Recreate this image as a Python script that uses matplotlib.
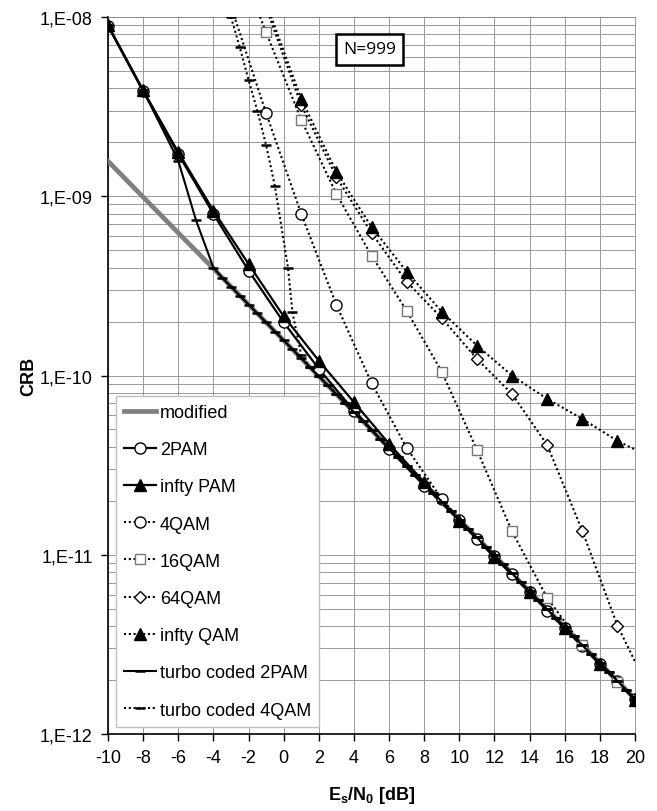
import numpy as np
import matplotlib
matplotlib.use("Agg")
import matplotlib.pyplot as plt
from matplotlib.ticker import FixedLocator, FuncFormatter

plt.rcParams['font.family'] = ['Liberation Sans', 'DejaVu Sans']
plt.rcParams['mathtext.fontset'] = 'custom'
plt.rcParams['mathtext.rm'] = 'Liberation Sans'
plt.rcParams['mathtext.bf'] = 'Liberation Sans:bold'

# ---- data ----
mod_x = [-10, -8, -6, -4, -2, 0, 2, 4, 6, 8, 10, 12, 14, 16, 18, 20]
mod_y = [1.57e-9, 9.9e-10, 6.25e-10, 3.95e-10, 2.49e-10, 1.57e-10, 9.9e-11, 6.25e-11,
         3.95e-11, 2.49e-11, 1.57e-11, 9.9e-12, 6.25e-12, 3.95e-12, 2.49e-12, 1.57e-12]

pam_x = [-10, -8, -6, -4, -2, 0, 2, 4, 6, 8, 10, 12, 14, 16, 18, 20]
pam2_y = [8.9e-9, 3.85e-9, 1.72e-9, 7.97e-10, 3.85e-10, 1.98e-10, 1.09e-10, 6.37e-11,
          3.90e-11, 2.43e-11, 1.56e-11, 9.8e-12, 6.2e-12, 3.9e-12, 2.47e-12, 1.56e-12]
infpam_y = [9.0e-9, 3.9e-9, 1.76e-9, 8.32e-10, 4.19e-10, 2.14e-10, 1.21e-10, 7.10e-11,
            4.16e-11, 2.54e-11, 1.55e-11, 9.7e-12, 6.2e-12, 3.9e-12, 2.45e-12, 1.55e-12]

qam4_x = [-3, -1, 1, 3, 5, 7, 9, 11, 13, 15, 17, 19]
qam4_y = [1.15e-8, 2.91e-9, 7.97e-10, 2.48e-10, 9.09e-11, 3.95e-11, 2.05e-11, 1.22e-11,
          7.83e-12, 4.85e-12, 3.1e-12, 1.97e-12]

qam16_x = [-3, -1, 1, 3, 5, 7, 9, 11, 13, 15, 17, 19]
qam16_y = [2.6e-8, 8.2e-9, 2.67e-9, 1.03e-9, 4.67e-10, 2.30e-10, 1.05e-10, 3.86e-11,
           1.35e-11, 5.75e-12, 3.12e-12, 1.96e-12]

qam64_x = [-1, 1, 3, 5, 7, 9, 11, 13, 15, 17, 19, 21]
qam64_y = [1.13e-8, 3.23e-9, 1.28e-9, 6.24e-10, 3.34e-10, 2.09e-10, 1.24e-10, 7.89e-11,
           4.10e-11, 1.36e-11, 4.03e-12, 1.6e-12]

infqam_x = [-1, 1, 3, 5, 7, 9, 11, 13, 15, 17, 19, 21]
infqam_y = [1.2e-8, 3.49e-9, 1.37e-9, 6.74e-10, 3.80e-10, 2.27e-10, 1.47e-10, 9.99e-11,
            7.41e-11, 5.73e-11, 4.32e-11, 3.46e-11]

tc2pam_x = [-10, -8, -6, -5, -4, -3.5, -3, -2.5, -2, -1.5, -1, -0.5, 0, 0.5, 1, 1.5, 2,
            2.5, 3, 3.5, 4, 4.5, 5, 5.5, 6, 6.5, 7, 7.5, 8, 8.5, 9, 9.5, 10, 10.5, 11,
            11.5, 12, 12.5, 13, 13.5, 14, 14.5, 15, 15.5, 16, 16.5, 17, 17.5, 18, 18.5,
            19, 19.5, 20]
tc2pam_y = [9.0e-9, 3.9e-9, 1.58e-9, 7.4e-10, 4.0e-10, 3.51e-10, 3.13e-10, 2.79e-10,
            2.49e-10, 2.22e-10, 1.98e-10, 1.76e-10, 1.57e-10, 1.40e-10, 1.25e-10, 1.11e-10,
            9.91e-11, 8.83e-11, 7.87e-11, 7.01e-11, 6.25e-11, 5.57e-11, 4.96e-11, 4.42e-11,
            3.94e-11, 3.51e-11, 3.13e-11, 2.79e-11, 2.49e-11, 2.22e-11, 1.98e-11, 1.76e-11,
            1.57e-11, 1.40e-11, 1.25e-11, 1.11e-11, 9.91e-12, 8.83e-12, 7.87e-12, 7.01e-12,
            6.25e-12, 5.57e-12, 4.96e-12, 4.42e-12, 3.94e-12, 3.51e-12, 3.13e-12, 2.79e-12,
            2.49e-12, 2.22e-12, 1.98e-12, 1.76e-12, 1.57e-12]

tc4qam_x = [-3, -2.5, -2, -1.5, -1, -0.5, 0.25, 0.5, 1] + tc2pam_x[15:]
tc4qam_y = [1.0e-8, 6.78e-9, 4.46e-9, 3.0e-9, 1.93e-9, 1.14e-9, 3.97e-10, 2.25e-10,
            1.30e-10] + tc2pam_y[15:]

x_ticks = [-10, -8, -6, -4, -2, 0, 2, 4, 6, 8, 10, 12, 14, 16, 18, 20]

# ---- figure ----
fig = plt.figure(figsize=(6.57, 8.12), dpi=100)
ax = fig.add_axes([0.1644, 0.0948, 0.8021, 0.8830])
ax.set_yscale('log')

dot = (0, (1, 1.3))
ax.plot(mod_x, mod_y, color='#808080', lw=3.4, label='modified', zorder=3)
ax.plot(pam_x, pam2_y, color='black', lw=1.6, marker='o', ms=8, mfc='white',
        mec='black', mew=1.0, label='2PAM', zorder=4)
ax.plot(pam_x, infpam_y, color='black', lw=1.6, marker='^', ms=8, mfc='black',
        mec='black', label='infty PAM', zorder=4)
ax.plot(qam4_x, qam4_y, color='black', lw=1.5, ls=dot, marker='o', ms=8, mfc='white',
        mec='black', mew=1.0, label='4QAM', zorder=5)
ax.plot(qam16_x, qam16_y, color='black', lw=1.5, ls=dot, marker='s', ms=7.5, mfc='white',
        mec='#777777', mew=1.0, label='16QAM', zorder=5)
ax.plot(qam64_x, qam64_y, color='black', lw=1.5, ls=dot, marker='D', ms=6.5, mfc='white',
        mec='black', mew=1.0, label='64QAM', zorder=5)
ax.plot(infqam_x, infqam_y, color='black', lw=1.5, ls=dot, marker='^', ms=8, mfc='black',
        mec='black', label='infty QAM', zorder=5)
ax.plot(tc2pam_x, tc2pam_y, color='black', lw=1.5, marker='_', ms=7, mew=1.8,
        label='turbo coded 2PAM', zorder=6)
ax.plot(tc4qam_x, tc4qam_y, color='black', lw=1.5, ls=dot, marker='_', ms=7, mew=1.8,
        label='turbo coded 4QAM', zorder=6)

ax.set_xlim(-10, 20)
ax.set_ylim(1e-12, 1e-8)
ax.set_xticks(x_ticks)
ax.set_xticklabels([str(t) for t in x_ticks])

minor = [m * 10.0 ** e for e in range(-12, -8) for m in range(2, 10)]
ax.yaxis.set_major_locator(FixedLocator([1e-12, 1e-11, 1e-10, 1e-9, 1e-8]))
ax.yaxis.set_minor_locator(FixedLocator(minor))
ax.yaxis.set_major_formatter(FuncFormatter(lambda v, p: "1,E-%02d" % int(round(-np.log10(v)))))
ax.yaxis.set_minor_formatter(FuncFormatter(lambda v, p: ""))

ax.set_axisbelow(True)
ax.grid(which='both', axis='y', color='#8a8a8a', lw=0.6)
ax.grid(which='major', axis='x', color='#8a8a8a', lw=0.6)

ax.tick_params(axis='both', which='major', direction='out', length=5, width=1,
               labelsize=13, colors='black')
ax.tick_params(axis='y', which='major', pad=6)
ax.tick_params(axis='x', which='major', pad=6)
ax.tick_params(axis='y', which='minor', length=0)

for s in ['left', 'bottom']:
    ax.spines[s].set_color('black')
    ax.spines[s].set_linewidth(1.2)
for s in ['top', 'right']:
    ax.spines[s].set_color('#8a8a8a')
    ax.spines[s].set_linewidth(0.6)

ax.set_ylabel('CRB', fontsize=13, fontweight='bold', labelpad=2)
ax.set_xlabel(r'E$_\mathbf{s}$/N$_\mathbf{0}$ [dB]', fontsize=13, fontweight='bold',
              labelpad=13)

ax.text(0.496, 0.955, 'N=999', transform=ax.transAxes, ha='center', va='center',
        fontsize=12.5, family='Open Sans',
        bbox=dict(boxstyle='square,pad=0.42', fc='white', ec='black', lw=1.8))

leg = ax.legend(loc='lower left', bbox_to_anchor=(0.008, 0.005), fontsize=13,
                frameon=True, fancybox=False, framealpha=1, edgecolor='#c0c0c0',
                handlelength=1.8, handletextpad=0.2, labelspacing=1.12,
                borderpad=0.45, borderaxespad=0.2, numpoints=1)
leg.get_frame().set_linewidth(1.0)
leg.set_zorder(10)

fig.savefig('out.png', dpi=100)
